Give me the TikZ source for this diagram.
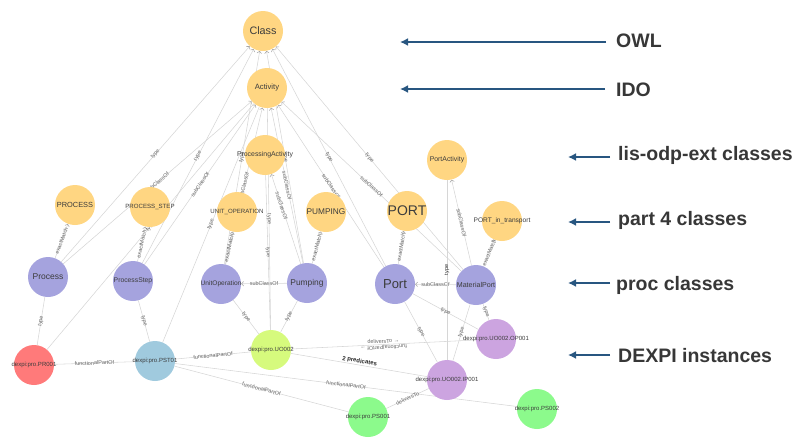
\documentclass[tikz,border=0pt]{standalone}
\usepackage{fontspec}
\setmainfont{Liberation Sans}
\usetikzlibrary{arrows.meta,backgrounds}
\definecolor{clsYellow}{RGB}{255,214,130}
\definecolor{procPurple}{RGB}{165,163,222}
\definecolor{instRed}{RGB}{255,122,122}
\definecolor{instBlue}{RGB}{160,202,222}
\definecolor{instLime}{RGB}{214,250,125}
\definecolor{instViolet}{RGB}{204,164,224}
\definecolor{instGreen}{RGB}{140,250,140}
\definecolor{edgeGray}{RGB}{214,214,214}
\definecolor{labGray}{RGB}{105,105,105}
\definecolor{nodeText}{RGB}{60,60,60}
\definecolor{levelBlue}{RGB}{40,86,128}
\definecolor{levelText}{RGB}{55,55,55}
\newcommand{\nodetext}[1]{\makebox[0pt]{#1}}
\tikzset{kgpanel/.style={
  cls/.style={circle, fill=clsYellow, draw=none, minimum size=40pt, inner sep=0pt, text=nodeText, font=\fontsize{6.5}{7}\selectfont},
  proc/.style={cls, fill=procPurple},
  inst/.style={cls, font=\fontsize{6}{7}\selectfont},
  edge/.style={draw=edgeGray, line width=0.55pt, -{Straight Barb[length=2pt,width=4.5pt,color=black!35]}},
  link/.style={draw=edgeGray, line width=0.55pt},
  elab/.style={font=\fontsize{5.5}{6}\selectfont, text=labGray, sloped, inner sep=0.5pt, midway},
  lvl/.style={levelBlue, line width=2.6pt, -{Latex[length=8pt,width=8pt]}},
  lvltext/.style={anchor=base west, inner sep=0pt, text=levelText, font=\fontsize{19.5}{22}\selectfont\bfseries},
}}

\begin{document}
\begin{tikzpicture}[kgpanel, x=1pt, y=-1pt]
\useasboundingbox (0,0) rectangle (803,445);

% =====================================================================
% OWL / IDO / lis-odp-ext classes
% =====================================================================
\node[cls, font=\fontsize{10.8}{12}\selectfont] (class) at (263,31) {\nodetext{Class}};
\node[cls, font=\fontsize{7.7}{9}\selectfont] (activity) at (267,88) {\nodetext{Activity}};
\node[cls, font=\fontsize{6.9}{8}\selectfont] (procact) at (265,155) {\nodetext{ProcessingActivity}};
\node[cls, font=\fontsize{6.9}{8}\selectfont] (portact) at (447,160) {\nodetext{PortActivity}};

% =====================================================================
% part 4 classes
% =====================================================================
\node[cls, font=\fontsize{7.4}{8}\selectfont] (p4process) at (75,205) {\nodetext{PROCESS}};
\node[cls, font=\fontsize{6.1}{7}\selectfont] (p4step) at (150,207) {\nodetext{PROCESS\_STEP}};
\node[cls, font=\fontsize{6.1}{7}\selectfont] (p4unitop) at (237,212) {\nodetext{UNIT\_OPERATION}};
\node[cls, font=\fontsize{8.3}{9}\selectfont] (p4pumping) at (326,212) {\nodetext{PUMPING}};
\node[cls, font=\fontsize{14}{16}\selectfont] (p4port) at (407,211) {\nodetext{PORT}};
\node[cls, font=\fontsize{6.6}{7}\selectfont] (p4portin) at (502,221) {\nodetext{PORT\_in\_transport}};

% =====================================================================
% proc classes
% =====================================================================
\node[proc, font=\fontsize{8.5}{9}\selectfont] (process) at (48,277) {\nodetext{Process}};
\node[proc, font=\fontsize{6.8}{8}\selectfont] (processstep) at (133,281) {\nodetext{ProcessStep}};
\node[proc, font=\fontsize{6.6}{7}\selectfont] (unitop) at (221,284) {\nodetext{UnitOperation}};
\node[proc, font=\fontsize{8.4}{9}\selectfont] (pumping) at (307,283) {\nodetext{Pumping}};
\node[proc, font=\fontsize{13}{15}\selectfont] (port) at (395,284) {\nodetext{Port}};
\node[proc, font=\fontsize{7.1}{8}\selectfont] (matport) at (476,285) {\nodetext{MaterialPort}};

% =====================================================================
% DEXPI instances
% =====================================================================
\node[inst, fill=instRed] (pr) at (34,365) {\nodetext{dexpi:pro.PR001}};
\node[inst, fill=instBlue] (pst) at (155,361) {\nodetext{dexpi:pro.PST01}};
\node[inst, fill=instLime] (uo) at (271,350) {\nodetext{dexpi:pro.UO002}};
\node[inst, fill=instViolet] (op) at (496,339) {\nodetext{dexpi:pro.UO002.OP001}};
\node[inst, fill=instViolet] (ip) at (447,380) {\nodetext{dexpi:pro.UO002.IP001}};
\node[inst, fill=instGreen] (psa) at (368,417) {\nodetext{dexpi:pro.PS001}};
\node[inst, fill=instGreen] (psb) at (537,409) {\nodetext{dexpi:pro.PS002}};

% =====================================================================
% edges (behind the nodes)
% =====================================================================
\begin{scope}[on background layer]
  \draw[edge] (process) -- node[elab]{type} (class);
  \draw[edge] (process) -- node[elab]{subClassOf} (activity);
  \draw[edge] (processstep) -- node[elab]{type} (class);
  \draw[edge] (processstep) -- node[elab]{subClassOf} (activity);
  \draw[edge] (unitop) -- node[elab]{type} (class);
  \draw[edge] (unitop) -- node[elab]{subClassOf} (activity);
  \draw[edge] (pumping) -- node[elab]{type} (class);
  \draw[edge] (pumping) -- node[elab]{subClassOf} (activity);
  \draw[edge] (pumping) -- node[elab, pos=0.65]{subClassOf} (procact);
  \draw[edge] (port) -- node[elab]{type} (class);
  \draw[edge] (port) -- node[elab]{subClassOf} (activity);
  \draw[edge] (matport) -- node[elab]{type} (class);
  \draw[edge] (matport) -- node[elab]{subClassOf} (activity);
  \draw[edge] (matport) -- node[elab]{subClassOf} (portact);
  \draw[edge] (pumping) -- node[elab]{subClassOf} (unitop);
  \draw[edge] (matport) -- node[elab]{subClassOf} (port);
  \foreach \a/\b in {process/p4process, processstep/p4step, unitop/p4unitop, pumping/p4pumping, port/p4port, matport/p4portin}{
    \draw[edge] (\a) -- node[elab]{exactMatch} (\b);
  }
  % instance links
  \draw[link] (pr) -- node[elab]{type} (process);
  \draw[link] (pr) -- node[elab]{type} (activity);
  \draw[link] (pst) -- node[elab]{type} (processstep);
  \draw[link] (pst) -- node[elab]{type} (activity);
  \draw[link] (pst) -- node[elab]{functionalPartOf} (pr);
  \draw[link] (uo) -- node[elab]{functionalPartOf} (pst);
  \draw[link] (psa) -- node[elab]{functionalPartOf} (pst);
  \draw[link] (psb) -- node[elab]{functionalPartOf} (pst);
  \draw[link] (uo) -- node[elab]{type} (unitop);
  \draw[link] (uo) -- node[elab]{type} (pumping);
  \draw[link] (uo) -- node[elab]{type} (procact);
  \draw[link] (uo) -- node[elab]{type} (activity);
  \draw[link] (uo) -- node[elab, anchor=south, yshift=0.5pt]{deliversTo →}
                      node[elab, anchor=south, rotate=180, yshift=0.5pt]{functionalPartOf →} (op);
  \draw[link] (uo) -- node[elab, anchor=south, text=black!85, font=\fontsize{6}{7}\selectfont\bfseries]{2 predicates} (ip);
  \draw[link] (psa) -- node[elab]{deliversTo} (ip);
  \draw[link] (ip) -- node[elab]{type} (port);
  \draw[link] (ip) -- node[elab]{type} (matport);
  \draw[link] (ip) -- node[elab, text=black!80]{type} (portact);
  \draw[link] (op) -- node[elab]{type} (port);
  \draw[link] (op) -- node[elab]{type} (matport);
\end{scope}

% =====================================================================
% level legend
% =====================================================================
\coordinate (owlS) at (606,42);  \coordinate (owlT) at (400,42);
\coordinate (idoS) at (605,89);  \coordinate (idoT) at (400,89);
\coordinate (lisS) at (610,157); \coordinate (lisT) at (568,157);
\coordinate (ptS) at (610,222);  \coordinate (ptT) at (568,222);
\coordinate (pcS) at (610,283);  \coordinate (pcT) at (568,283);
\coordinate (dxS) at (610,355);  \coordinate (dxT) at (568,355);
\foreach \n in {owl,ido,lis,pt,pc,dx}{ \draw[lvl] (\n S) -- (\n T); }
\node[lvltext] (owl) at (616,47.5) {OWL};
\node[lvltext] (ido) at (616,96) {IDO};
\node[lvltext] (lis) at (618,160) {lis-odp-ext classes};
\node[lvltext] (pt) at (618,225) {part 4 classes};
\node[lvltext] (pc) at (616,290) {proc classes};
\node[lvltext] (dx) at (618,362) {DEXPI instances};

\end{tikzpicture}
\end{document}
